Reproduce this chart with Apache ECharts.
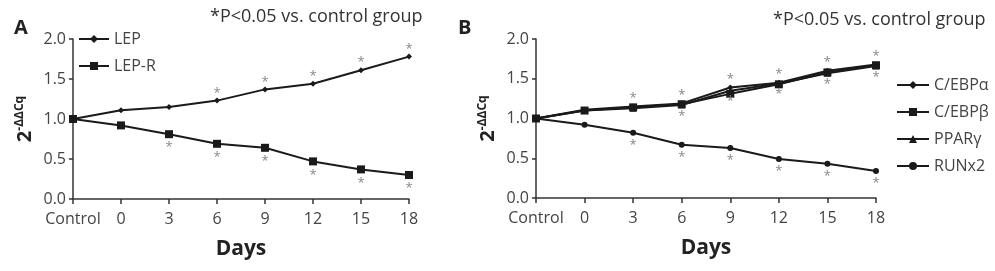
<!DOCTYPE html>
<html>
<head>
  <meta charset="utf-8">
  <title>Expression time course</title>
  <script src="https://cdn.jsdelivr.net/npm/echarts@6/dist/echarts.min.js"></script>
  <style>
    html, body { margin: 0; padding: 0; background: #fff; }
    #chart { width: 995px; height: 271px; }
  </style>
</head>
<body>
  <div id="chart"></div>
  <script>
    // x categories (both panels)
    const days = ['Control', '0', '3', '6', '9', '12', '15', '18'];
    const yTicks = [0, 0.5, 1.0, 1.5, 2.0];

    // panel A
    const lep = [1.0, 1.11, 1.15, 1.23, 1.37, 1.44, 1.61, 1.78];
    const lepR = [1.0, 0.92, 0.81, 0.69, 0.64, 0.47, 0.37, 0.30];
    const lepSig = [0, 0, 0, 1, 1, 1, 1, 1];
    const lepRSig = [0, 0, 1, 1, 1, 1, 1, 1];

    // panel B
    const cebpa = [1.0, 1.11, 1.15, 1.19, 1.39, 1.45, 1.60, 1.68];
    const cebpb = [1.0, 1.10, 1.14, 1.18, 1.31, 1.43, 1.58, 1.67];
    const pparg = [1.0, 1.10, 1.13, 1.17, 1.35, 1.44, 1.57, 1.66];
    const runx2 = [1.0, 0.92, 0.82, 0.67, 0.63, 0.49, 0.43, 0.34];
    const upSigAbove = [0, 0, 1, 1, 1, 1, 1, 1];
    const upSigBelow = [0, 0, 0, 1, 1, 1, 1, 1];
    const runx2Sig = [0, 0, 1, 1, 1, 1, 1, 1];

    const ink = '#1a1a1a';
    const font = 'Open Sans';

    function star(sig, pos, dist) {
      return {
        show: true,
        position: pos,
        distance: dist,
        color: '#888',
        fontSize: 13,
        fontFamily: font,
        formatter: p => sig[p.dataIndex] ? '*' : ''
      };
    }

    function lineSeries(name, data, symbol, size, idx, label) {
      return {
        name: name,
        type: 'line',
        xAxisIndex: idx,
        yAxisIndex: idx,
        data: data,
        symbol: symbol,
        symbolSize: size,
        showSymbol: true,
        lineStyle: { color: ink, width: 2 },
        itemStyle: { color: ink },
        label: label || { show: false },
        animation: false,
        z: 3
      };
    }

    function xAxis(idx) {
      return {
        type: 'category',
        gridIndex: idx,
        data: days,
        boundaryGap: false,
        name: 'Days',
        nameLocation: 'middle',
        nameGap: 40,
        nameTextStyle: { fontFamily: font, fontSize: 21, fontWeight: 'bold', color: '#222' },
        axisLine: { lineStyle: { color: '#333', width: 1.5 } },
        axisTick: { length: 5, interval: 0, lineStyle: { color: '#333', width: 1.5 } },
        axisLabel: { fontFamily: font, fontSize: 16, color: '#444', margin: 12, interval: 0 },
        splitLine: { show: false }
      };
    }

    function yAxis(idx) {
      return {
        type: 'value',
        gridIndex: idx,
        min: yTicks[0],
        max: yTicks[yTicks.length - 1],
        interval: 0.5,
        name: '{b|2}{s|-ΔΔCq}',
        nameLocation: 'middle',
        nameGap: 37,
        nameRotate: 90,
        nameTextStyle: {
          rich: {
            b: { fontFamily: font, fontSize: 20, fontWeight: 'bold', color: '#222', lineHeight: 22 },
            s: { fontFamily: font, fontSize: 12, fontWeight: 'bold', color: '#222', verticalAlign: 'top', lineHeight: 22, padding: [0, 0, 9, 0] }
          }
        },
        axisLine: { show: true, lineStyle: { color: '#333', width: 1.5 } },
        axisTick: { show: true, length: 4, lineStyle: { color: '#333', width: 1.5 } },
        axisLabel: { fontFamily: font, fontSize: 16, color: '#444', margin: 7, formatter: v => v.toFixed(1) },
        splitLine: { show: false }
      };
    }

    const chart = echarts.init(document.getElementById('chart'), null, { renderer: 'canvas' });

    chart.setOption({
      backgroundColor: '#fff',
      animation: false,
      title: [
        { text: 'A', left: 9, top: 13, textStyle: { fontFamily: font, fontSize: 20, fontWeight: 'bold', color: '#222' } },
        { text: 'B', left: 453, top: 13, textStyle: { fontFamily: font, fontSize: 20, fontWeight: 'bold', color: '#222' } },
        { text: '*P<0.05 vs. control group', left: 205, top: 3, textStyle: { fontFamily: font, fontSize: 18, fontWeight: 'normal', color: '#333' } },
        { text: '*P<0.05 vs. control group', left: 768, top: 6, textStyle: { fontFamily: font, fontSize: 18, fontWeight: 'normal', color: '#333' } }
      ],
      legend: [
        {
          data: ['LEP', 'LEP-R'],
          orient: 'vertical',
          left: 73, top: 26,
          itemWidth: 30, itemHeight: 10, itemGap: 11,
          textStyle: { fontFamily: font, fontSize: 16, color: '#444' }
        },
        {
          data: ['C/EBPα', 'C/EBPβ', 'PPARγ', 'RUNx2'],
          orient: 'vertical',
          left: 891, top: 72,
          itemWidth: 32, itemHeight: 10, itemGap: 11,
          textStyle: { fontFamily: font, fontSize: 16, color: '#444' }
        }
      ],
      grid: [
        { left: 73, right: 586, top: 39, bottom: 72 },
        { left: 536, right: 119, top: 39, bottom: 73 }
      ],
      xAxis: [xAxis(0), xAxis(1)],
      yAxis: [yAxis(0), yAxis(1)],
      series: [
        lineSeries('LEP', lep, 'diamond', 6, 0, star(lepSig, 'top', -2)),
        lineSeries('LEP-R', lepR, 'rect', 8, 0, star(lepRSig, 'bottom', 3)),
        lineSeries('C/EBPα', cebpa, 'diamond', 6, 1, star(upSigAbove, 'top', -1)),
        lineSeries('C/EBPβ', cebpb, 'rect', 8, 1),
        lineSeries('PPARγ', pparg, 'triangle', 7, 1, star(upSigBelow, 'bottom', 1)),
        lineSeries('RUNx2', runx2, 'circle', 6, 1, star(runx2Sig, 'bottom', 3))
      ]
    });
  </script>
</body>
</html>
